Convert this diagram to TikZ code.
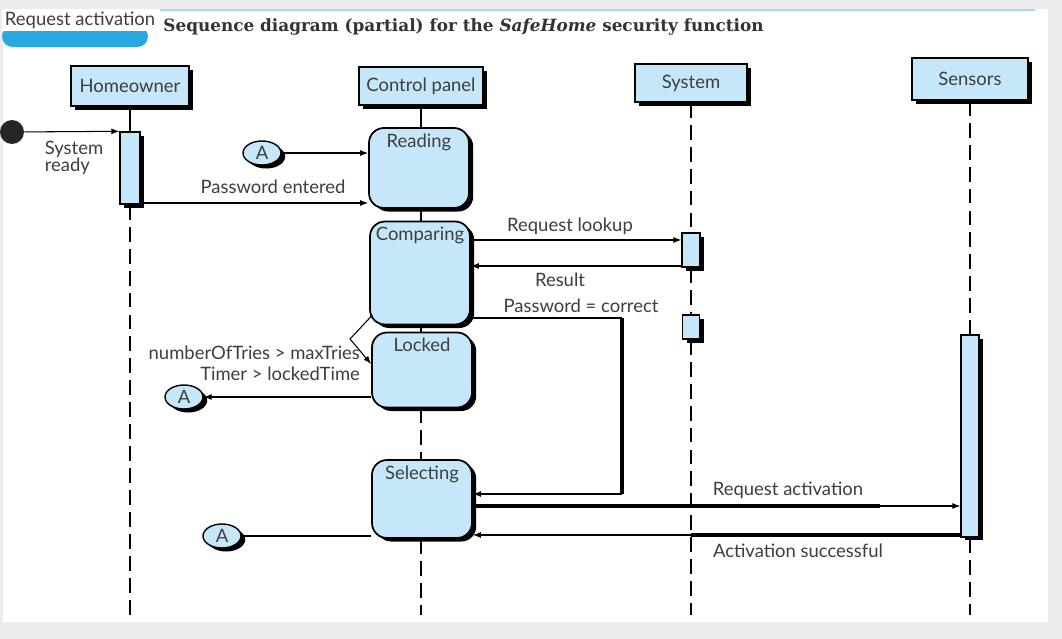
\documentclass[tikz,border=0pt]{standalone}
\usepackage{fontspec}
\setmainfont{Lato}
\newfontfamily\titlefont{DejaVu Serif}
\usetikzlibrary{arrows.meta,positioning,shapes.geometric,shadows,calc}
\definecolor{boxblue}{RGB}{197,231,249}
\definecolor{tabblue}{RGB}{40,168,225}
\definecolor{inkgray}{RGB}{62,62,62}
\definecolor{framegray}{RGB}{236,236,236}
\definecolor{rulecyan}{RGB}{160,218,238}

\begin{document}
\begin{tikzpicture}[
  x=0.02cm,y=-0.02cm,
  font=\fontsize{10.5}{12}\selectfont,
  shd/.style={general shadow={fill=black,shadow xshift=2.4pt,shadow yshift=-2pt}},
  obj/.style={rectangle,draw=black,line width=0.8pt,fill=boxblue,text=inkgray,inner sep=0pt,shd},
  act/.style={rectangle,draw=black,line width=0.8pt,fill=boxblue,inner sep=0pt,shd},
  st/.style={rectangle,rounded corners=8.5pt,draw=black,line width=1pt,fill=boxblue,
             inner sep=0pt,minimum width=2cm,shd},
  sttext/.style={text=inkgray,inner sep=1pt,anchor=north,yshift=-2.5pt},
  conn/.style={ellipse,draw=black,line width=0.8pt,fill=boxblue,text=inkgray,inner sep=0pt,
               minimum width=0.76cm,minimum height=0.48cm,shd},
  msg/.style={-{Latex[length=1.6mm,width=1.2mm]},line width=0.6pt},
  wire/.style={line width=0.6pt},
  heavy/.style={line width=2pt},
  solidln/.style={line width=1.3pt},
  lifeln/.style={line width=1.3pt,dash pattern=on 8.5pt off 4pt},
  lab/.style={text=inkgray,inner sep=1pt}]

\useasboundingbox (0,0) rectangle (1062,639);

% ================= page frame + caption =================
\fill[framegray] (0,0) rectangle (1062,639);
\fill[white] (3,9) rectangle (1048,622);
\draw[rulecyan,line width=1pt] (160,10) -- (1035,10);
\fill[tabblue,rounded corners=6pt] (2,26) rectangle (148,47);
\node[lab,fill=white,inner sep=1.5pt,anchor=west] (tab) at (2,20) {Request activation};
\node[anchor=west,text=black!80,inner sep=0pt] (title) at (163,27)
  {\titlefont\bfseries\fontsize{9.6}{11}\selectfont Sequence diagram (partial) for the \textit{SafeHome} security function};

% ================= objects =================
\node[obj,minimum width=2.36cm,minimum height=0.8cm] (ho) at (130,86) {Homeowner};
\node[obj,minimum width=2.48cm,minimum height=0.76cm] (cp) at (421,86) {Control panel};
\node[obj,minimum width=2.24cm,minimum height=0.76cm] (sy) at (691,83) {System};
\node[obj,minimum width=2.32cm,minimum height=0.84cm] (se) at (970,79) {Sensors};

% activation bars
\node[act,minimum width=0.4cm,minimum height=1.44cm] (hb) at (130,168) {};
\node[act,minimum width=0.36cm,minimum height=0.68cm] (sb1) at (691,250) {};
\node[act,minimum width=0.34cm,minimum height=0.48cm] (sb2) at (691,327) {};
\node[act,minimum width=0.36cm,minimum height=4.04cm] (snb) at (970,436) {};

% control panel states
\node[st,minimum height=1.6cm,label={[sttext]north:Reading}] (rd) at (419,168) {};
\node[st,minimum height=2.06cm,label={[sttext]north:Comparing}] (cmp) at (420,273) {};
\node[st,minimum height=1.5cm,label={[sttext]north:Locked}] (lk) at (422,370) {};
\node[st,minimum height=1.56cm,label={[sttext]north:Selecting}] (sel) at (422,499) {};

% connectors and start
\node[circle,fill=black!85,minimum size=0.48cm,inner sep=0pt] (dot) at (12,132) {};
\node[conn] (a1) at (262,153) {A};
\node[conn] (a2) at (184,397) {A};
\node[conn] (a3) at (222,536) {A};

% ================= lifelines =================
\draw[solidln] (ho.south) -- (hb.north);
\draw[lifeln] (hb.south) -- (hb.south |- 0,615);
\draw[solidln] (cp.south) -- (cp.south |- rd.north) (cp.south |- rd.south) -- (cp.south |- cmp.north)
  (cp.south |- cmp.south) -- (cp.south |- lk.north);
\draw[lifeln] (cp.south |- lk.south) -- (cp.south |- sel.north);
\draw[lifeln] (cp.south |- sel.south) -- (cp.south |- 0,615);
\draw[lifeln] (sy.south) -- (sb1.north) (sb1.south) -- (sb2.north);
\draw[lifeln] (sb2.south) -- (sb2.south |- 0,615);
\draw[lifeln] (se.south) -- (snb.north);
\draw[lifeln] (snb.south) -- (snb.south |- 0,615);

% ================= messages =================
\draw[msg] (dot) -- (hb.north west);
\node[lab,align=left] (sysrdy) at (74,158) {System\\[-2.5pt]ready};
\draw[msg] (a1) -- (a1 -| rd.west);
\draw[msg] (hb.east |- 0,203) -- (rd.west |- 0,203);
\node[lab] (pwent) at (273,187) {Password entered};

\draw[msg] (cmp.east |- 0,240) -- (sb1.west |- 0,240);
\node[lab] (rqlook) at (570,226) {Request lookup};
\draw[msg] (sb1.west |- 0,266) -- (cmp.east |- 0,266);
\node[lab] (res) at (560,280) {Result};

% password ok -> selecting
\coordinate (pc1) at (622,318);
\coordinate (pc2) at (622,494);
\node[lab] (pwok) at (581,306) {Password = correct};
\draw[wire] (cmp.east |- pc1) -- (pc1);
\draw[heavy] (pc1) -- (pc2);
\draw[msg,line width=1pt] (pc2) -- (sel.east |- pc2);

% guard -> locked
\coordinate (g1) at (350,339);
\draw[msg] ($(cmp.south west)+(3,-10)$) -- (g1) -- (lk.west |- 0,364);
\node[lab,align=right,anchor=north east] (guard) at (362,344)
  {numberOfTries > maxTries\\Timer > lockedTime};
\draw[msg] (lk.west |- a2) -- (a2);

% selecting <-> sensors
\coordinate (ra) at (880,506);
\draw[heavy] (sel.east |- ra) -- (ra);
\draw[msg] (ra) -- (snb.west |- ra);
\node[lab] (rqact) at (788,490) {Request activation};
\coordinate (as) at (691,535);
\draw[heavy] (snb.west |- as) -- (as);
\draw[msg] (as) -- (sel.east |- as);
\node[lab] (actok) at (798,551) {Activation successful};
\draw[wire] (a3) -- (sel.west |- a3);
\end{tikzpicture}
\end{document}
